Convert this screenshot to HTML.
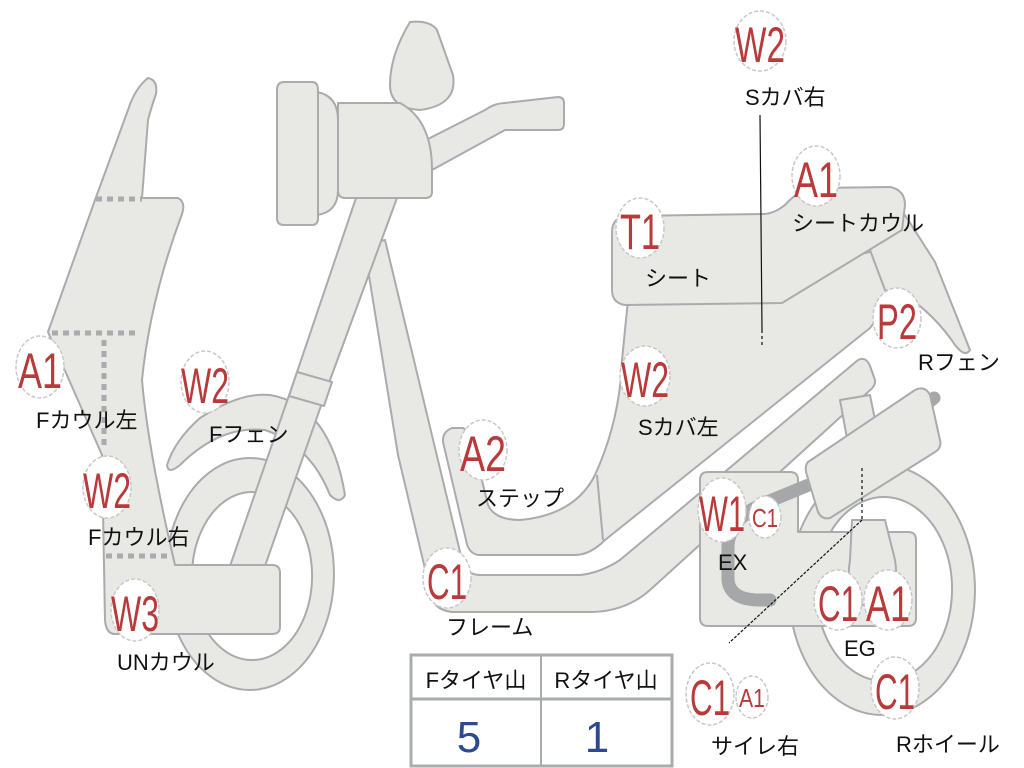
<!DOCTYPE html>
<html><head><meta charset="utf-8"><style>
html,body{margin:0;padding:0;background:#fff;}
svg{display:block;}
.s{fill:#e8e8e5;stroke:#a9abad;stroke-width:2;stroke-linejoin:round;}
.d{fill:none;stroke:#a9abad;stroke-width:5;stroke-dasharray:6,5;}
.c{fill:#fff;stroke:#c8c8c8;stroke-width:1.5;stroke-dasharray:4,2;}
.t{fill:#b83a3a;font-family:"Liberation Sans",sans-serif;font-size:50px;}
.ts{fill:#b83a3a;font-family:"Liberation Sans",sans-serif;font-size:26px;}
.l{fill:#111;font-family:"Liberation Sans","Noto Sans CJK JP",sans-serif;font-size:22px;}
</style></head><body>
<svg width="1024" height="768" viewBox="0 0 1024 768" xmlns="http://www.w3.org/2000/svg">
<!-- front wheel -->
<path class="s" fill-rule="evenodd" d="M250,458 A84,116 0 1,1 249.9,458 Z M252,492 A60,84 0 1,0 252.1,492 Z"/>
<!-- rear wheel -->
<path class="s" fill-rule="evenodd" d="M882,465 A93,125 0 1,1 881.9,465 Z M884,497 A68,92 0 1,0 884.1,497 Z"/>
<!-- front fender -->
<path class="s" d="M167,465 Q175,440 200,418 Q240,392 270,395 Q330,405 345,495 Q340,505 330,495 Q310,445 265,430 Q220,425 180,465 Q168,475 167,465 Z"/>
<!-- frame -->
<path class="s" d="M364,245 L385,240 L462,560 Q466,575 480,575 L580,575 Q600,573 620,560 L858,360 Q866,356 870,366 L875,380 Q876,386 868,392 L650,590 Q625,612 590,612 L452,612 Q432,610 430,590 L398,455 Z"/>
<!-- fork -->
<path class="s" d="M356,198 L397,198 L330,380 L265,566 L230,566 L295,378 Z"/>
<path class="s" d="M297,372 L332,382 L324,406 L289,396 Z"/>
<!-- body / step -->
<path class="s" d="M628,300 L880,250 L900,290 L870,328 L605,540 Q590,555 575,555 L478,555 Q468,553 466,540 L443,442 Q442,432 452,428 L463,428 Q470,432 472,440 L488,505 Q495,520 520,520 Q575,515 595,475 Q620,420 622,360 Z"/>
<path d="M597,475 L603,540" stroke="#a9abad" stroke-width="2" fill="none"/>
<!-- rear fender -->
<path class="s" d="M870,250 L905,215 L935,262 Q950,300 970,350 Q965,358 955,345 Q935,315 905,295 L885,290 Z"/>
<!-- seat -->
<path class="s" d="M612,232 Q612,216 630,216 L765,214 Q775,213 785,205 Q798,190 815,188 L890,187 Q905,190 905,205 L902,230 L782,303 L625,305 Q612,303 612,290 Z"/>
<!-- engine -->
<path class="s" d="M700,480 Q700,472 708,472 L790,472 Q798,472 798,480 L798,532 L908,532 Q916,532 916,540 L916,618 Q916,626 908,626 L708,626 Q700,626 700,618 Z"/>
<!-- shock -->
<path class="s" d="M840,400 L870,395 L880,445 L850,455 Z"/>
<path class="s" d="M852,520 L885,520 L895,560 Q900,590 880,605 L860,605 Q845,590 850,560 Z"/>
<!-- exhaust -->
<path d="M934,398 L845,470 L760,505 Q730,520 728,545 L728,580 Q730,600 760,600 L770,600" stroke="#a6a7a8" stroke-width="13" fill="none" stroke-linecap="round"/>
<!-- air box -->
<path class="s" d="M808,462 L915,390 Q925,385 930,395 L940,440 Q942,448 935,452 L830,518 Q822,520 818,512 L806,472 Q805,465 808,462 Z"/>
<!-- handlebar -->
<path class="s" d="M426,140 L485,110 Q495,103 505,103 L558,97 Q564,97 564,103 L564,124 Q564,130 558,130 L505,130 L432,170 Z"/>
<path class="s" d="M410,22 Q430,20 437,30 L453,75 Q458,105 420,110 Q390,108 390,85 Q390,55 410,22 Z"/>
<path class="s" d="M338,103 L400,103 Q432,120 432,170 L432,192 Q432,198 425,198 L345,198 Q338,198 338,190 Z"/>
<path class="s" d="M317,92 Q338,96 338,120 L338,190 Q338,212 317,215 Z"/>
<path class="s" d="M284,82 L312,82 Q318,82 318,90 L318,218 Q318,225 312,225 L284,225 Q277,225 277,218 L277,90 Q277,82 284,82 Z"/>
<!-- front cowl -->
<path class="s" d="M148,78 Q158,80 156,94 Q152,105 148,120 L142,198 L178,198 Q186,202 182,214 Q150,300 142,380 Q148,450 175,565 L272,565 Q280,565 280,573 L280,627 Q280,634 272,634 L115,634 Q106,634 105,620 L102,455 L48,332 L95,200 L128,110 Q135,88 148,78 Z"/>
<path class="d" d="M96,199 L142,199 M52,333 L140,333 M104,340 L104,450 M104,460 L104,480 M106,556 L170,556"/>
<!-- leader lines -->
<path d="M760,115 L762,330" stroke="#111" stroke-width="1.2" fill="none"/>
<path d="M762,330 L762,348" stroke="#111" stroke-width="1.2" stroke-dasharray="3,3"/>
<path d="M862,468 L862,520" stroke="#111" stroke-width="1.2" stroke-dasharray="3,3"/>
<path d="M862,520 L729,643" stroke="#111" stroke-width="1.2" stroke-dasharray="3,1.5"/>

<!-- labels -->
<g>
<ellipse class="c" cx="760" cy="41" rx="26" ry="30"/><text class="t" x="735" y="62" textLength="50" lengthAdjust="spacingAndGlyphs">W2</text>
<text class="l" x="745" y="105">Sカバ右</text>
<ellipse class="c" cx="816" cy="176" rx="24" ry="30"/><text class="t" x="794" y="197" textLength="44" lengthAdjust="spacingAndGlyphs">A1</text>
<text class="l" x="792" y="231">シートカウル</text>
<ellipse class="c" cx="640" cy="228" rx="24" ry="30"/><text class="t" x="620" y="249" textLength="40" lengthAdjust="spacingAndGlyphs">T1</text>
<text class="l" x="645" y="286">シート</text>
<ellipse class="c" cx="897" cy="318" rx="24" ry="30"/><text class="t" x="877" y="339" textLength="40" lengthAdjust="spacingAndGlyphs">P2</text>
<text class="l" x="918" y="370">Rフェン</text>
<ellipse class="c" cx="645" cy="376" rx="25" ry="30"/><text class="t" x="621" y="397" textLength="48" lengthAdjust="spacingAndGlyphs">W2</text>
<text class="l" x="638" y="435">Sカバ左</text>
<ellipse class="c" cx="483" cy="450" rx="24" ry="30"/><text class="t" x="460" y="471" textLength="46" lengthAdjust="spacingAndGlyphs">A2</text>
<text class="l" x="476" y="506">ステップ</text>
<ellipse class="c" cx="722" cy="510" rx="24" ry="32"/><text class="t" x="699" y="531" textLength="46" lengthAdjust="spacingAndGlyphs">W1</text>
<ellipse class="c" cx="765" cy="517" rx="16" ry="21"/><text class="ts" x="752" y="527" textLength="26" lengthAdjust="spacingAndGlyphs">C1</text>
<text class="l" x="718" y="570">EX</text>
<ellipse class="c" cx="447" cy="578" rx="24" ry="30"/><text class="t" x="427" y="599" textLength="40" lengthAdjust="spacingAndGlyphs">C1</text>
<text class="l" x="446" y="635">フレーム</text>
<ellipse class="c" cx="838" cy="600" rx="24" ry="30"/><text class="t" x="818" y="621" textLength="40" lengthAdjust="spacingAndGlyphs">C1</text>
<ellipse class="c" cx="888" cy="600" rx="24" ry="30"/><text class="t" x="866" y="621" textLength="44" lengthAdjust="spacingAndGlyphs">A1</text>
<text class="l" x="844" y="656">EG</text>
<ellipse class="c" cx="710" cy="694" rx="24" ry="31"/><text class="t" x="690" y="715" textLength="40" lengthAdjust="spacingAndGlyphs">C1</text>
<ellipse class="c" cx="752" cy="697" rx="16" ry="21"/><text class="ts" x="739" y="707" textLength="26" lengthAdjust="spacingAndGlyphs">A1</text>
<text class="l" x="711" y="754">サイレ右</text>
<ellipse class="c" cx="895" cy="688" rx="24" ry="31"/><text class="t" x="875" y="709" textLength="40" lengthAdjust="spacingAndGlyphs">C1</text>
<text class="l" x="896" y="752">Rホイール</text>
<ellipse class="c" cx="40" cy="367" rx="24" ry="31"/><text class="t" x="18" y="388" textLength="44" lengthAdjust="spacingAndGlyphs">A1</text>
<text class="l" x="36" y="428">Fカウル左</text>
<ellipse class="c" cx="205" cy="382" rx="24" ry="31"/><text class="t" x="181" y="403" textLength="48" lengthAdjust="spacingAndGlyphs">W2</text>
<text class="l" x="209" y="442">Fフェン</text>
<ellipse class="c" cx="107" cy="487" rx="24" ry="31"/><text class="t" x="83" y="508" textLength="48" lengthAdjust="spacingAndGlyphs">W2</text>
<text class="l" x="88" y="545">Fカウル右</text>
<ellipse class="c" cx="135" cy="610" rx="24" ry="31"/><text class="t" x="111" y="631" textLength="48" lengthAdjust="spacingAndGlyphs">W3</text>
<text class="l" x="117" y="670">UNカウル</text>
</g>

<!-- table -->
<rect x="411" y="655" width="261" height="111" fill="#fff" stroke="#a9abad" stroke-width="3"/>
<line x1="411" y1="699" x2="672" y2="699" stroke="#a9abad" stroke-width="3"/>
<line x1="541" y1="655" x2="541" y2="766" stroke="#a9abad" stroke-width="2"/>
<text class="l" x="476" y="688" text-anchor="middle">Fタイヤ山</text>
<text class="l" x="606" y="688" text-anchor="middle">Rタイヤ山</text>
<text x="469" y="752" text-anchor="middle" fill="#2c4a8f" font-family="Liberation Sans,sans-serif" font-size="44">5</text>
<text x="597" y="752" text-anchor="middle" fill="#2c4a8f" font-family="Liberation Sans,sans-serif" font-size="44">1</text>
</svg>
</body></html>
